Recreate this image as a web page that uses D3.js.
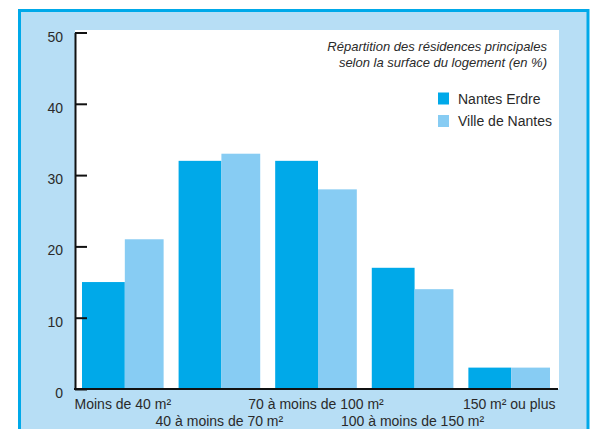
<!DOCTYPE html>
<html>
<head>
<meta charset="utf-8">
<script src="https://cdn.jsdelivr.net/npm/d3@7"></script>
<style>
  body { margin: 0; background: #fff; }
  svg { display: block; font-family: "Liberation Sans", Arial, sans-serif; }
</style>
</head>
<body>
<div id="chart"></div>
<script>
// data
var categories = ["Moins de 40 m²", "40 à moins de 70 m²", "70 à moins de 100 m²", "100 à moins de 150 m²", "150 m² ou plus"];
var seriesNames = ["Nantes Erdre", "Ville de Nantes"];
var nantesErdre = [15, 32, 32, 17, 3];
var villeNantes = [21, 33, 28, 14, 3];
var yTicks = [0, 10, 20, 30, 40, 50];
var titleLines = ["Répartition des résidences principales", "selon la surface du logement (en %)"];

var colors = ["#00a9e9", "#87ccf3"];
var textColor = "#2a2a2a";

let width = 593, height = 429;
let svg = d3.select("#chart").append("svg")
    .attr("width", width)
    .attr("height", height);

// frame
svg.append("rect")
    .attr("x", 19.5).attr("y", 10.5)
    .attr("width", 568.5).attr("height", 440)
    .attr("fill", "#b7def5")
    .attr("stroke", "#00a9e9")
    .attr("stroke-width", 3);

// white plot area
svg.append("rect")
    .attr("x", 75).attr("y", 30)
    .attr("width", 484).attr("height", 359)
    .attr("fill", "#fff");

let y = d3.scaleLinear().domain([0, 50]).range([389, 32.5]);
let x0 = d3.scaleBand().domain(categories).range([82, 550]).paddingInner(0.155);
let x1 = d3.scaleBand().domain(seriesNames).range([0, x0.bandwidth()]);

let rows = categories.map((c, i) => ({cat: c, values: [nantesErdre[i], villeNantes[i]]}));

let groups = svg.selectAll(".group")
    .data(rows)
    .enter().append("g")
    .attr("class", "group")
    .attr("transform", d => `translate(${x0(d.cat)},0)`);

// the first bar of each pair is a touch wider in the original
groups.selectAll("rect")
    .data(d => d.values.map((v, j) => ({name: seriesNames[j], value: v, j: j})))
    .enter().append("rect")
    .attr("x", d => x1(d.name) + (d.j ? 2 : 0))
    .attr("y", d => y(d.value))
    .attr("width", d => x1.bandwidth() + (d.j ? -2 : 2))
    .attr("height", d => y(0) - y(d.value))
    .attr("fill", d => colors[d.j]);

// y axis, ticks pointing inward
let yAxis = svg.append("g")
    .attr("transform", "translate(75,0)")
    .call(d3.axisLeft(y).tickValues(yTicks).tickSizeInner(-12).tickSizeOuter(0).tickFormat(""));
yAxis.select(".domain").attr("stroke", "#111").attr("stroke-width", 2);
yAxis.selectAll(".tick line").attr("stroke", "#111").attr("stroke-width", 2);

svg.selectAll(".ylabel")
    .data(yTicks)
    .enter().append("text")
    .attr("class", "ylabel")
    .attr("x", 63)
    .attr("y", d => y(d) + 9)
    .attr("text-anchor", "end")
    .attr("font-size", 14)
    .attr("fill", textColor)
    .text(d => d);

// x axis line
svg.append("line")
    .attr("x1", 74).attr("x2", 558)
    .attr("y1", y(0)).attr("y2", y(0))
    .attr("stroke", "#111")
    .attr("stroke-width", 2);

// category labels, alternating rows
svg.selectAll(".xlabel")
    .data(categories)
    .enter().append("text")
    .attr("class", "xlabel")
    .attr("x", d => x0(d) + x0.bandwidth() / 2)
    .attr("y", (d, i) => i % 2 === 0 ? 409 : 426)
    .attr("text-anchor", "middle")
    .attr("font-size", 14)
    .attr("fill", textColor)
    .text(d => d);

// title
svg.selectAll(".title")
    .data(titleLines)
    .enter().append("text")
    .attr("class", "title")
    .attr("x", 547)
    .attr("y", (d, i) => 50.5 + i * 16.5)
    .attr("text-anchor", "end")
    .attr("font-size", 13)
    .attr("font-style", "italic")
    .attr("fill", textColor)
    .text(d => d);

// legend
let legend = svg.selectAll(".legend")
    .data(seriesNames)
    .enter().append("g")
    .attr("class", "legend")
    .attr("transform", (d, i) => `translate(438,${92.5 + i * 22.5})`);

legend.append("rect")
    .attr("width", 11).attr("height", 12)
    .attr("fill", (d, i) => colors[i]);

legend.append("text")
    .attr("x", 20)
    .attr("y", 11)
    .attr("font-size", 14)
    .attr("fill", textColor)
    .text(d => d);
</script>
</body>
</html>
